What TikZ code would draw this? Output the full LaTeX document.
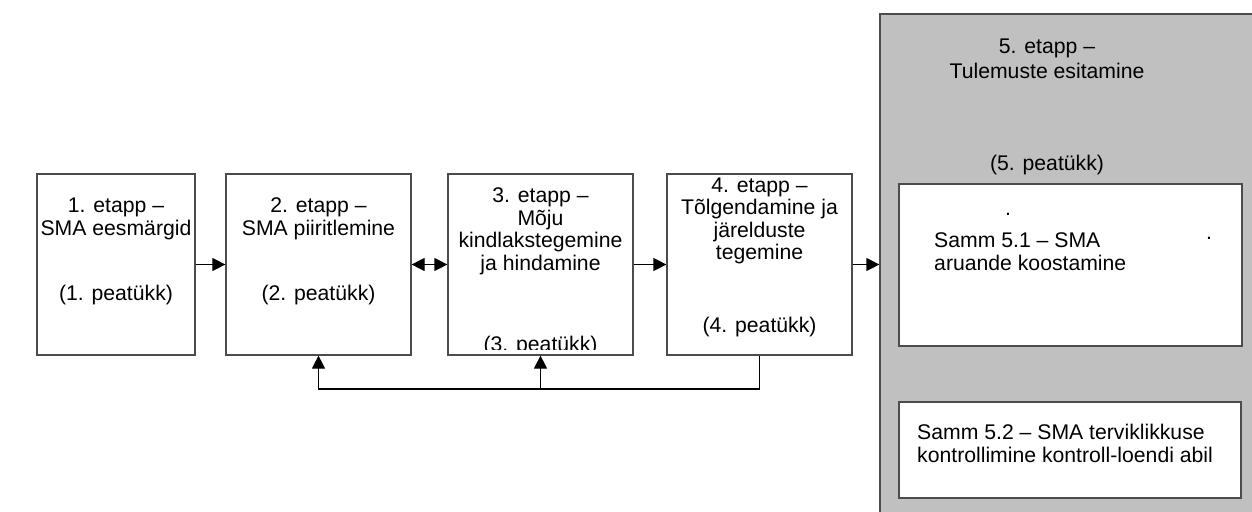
\documentclass[tikz,border=0pt]{standalone}
\usepackage{fontspec}
\setmainfont{Liberation Sans}
\usetikzlibrary{arrows.meta}
\definecolor{panelgray}{HTML}{C0C0C0}
\begin{document}
\begin{tikzpicture}[x=1pt,y=-1pt,
  box/.style={draw=black!70, line width=1.2pt, fill=white, rectangle, inner sep=0pt},
  txt/.style={anchor=base, inner sep=0pt, font=\fontsize{21.2}{23}\selectfont},
  ltxt/.style={txt, anchor=base west},
  link/.style={draw=black, line width=1.2pt},
  arr/.style={link, -{Triangle[length=13pt,width=13pt]}},
]
\useasboundingbox (0,0) rectangle (1252,511);

% stage boxes
\node[box, minimum width=158pt, minimum height=181pt] (b1) at (116,264.5) {};
\node[box, minimum width=185pt, minimum height=181pt] (b2) at (318.5,264.5) {};
\node[box, minimum width=185pt, minimum height=181pt] (b3) at (540.5,264.5) {};
\node[box, minimum width=185pt, minimum height=181pt] (b4) at (759.5,264.5) {};

% stage 5 panel and its two steps
\node[box, fill=panelgray, minimum width=382pt, minimum height=516pt] (g5) at (1071,272) {};
\node[box, minimum width=343pt, minimum height=162pt] (s1) at (1070.5,265) {};
\node[box, minimum width=342pt, minimum height=96pt] (s2) at (1070,450) {};

% stage 1
\node[txt] (t1a) at (116,212) {1. etapp –};
\node[txt] (t1b) at (116,235) {SMA eesmärgid};
\node[txt] (t1c) at (116,300) {(1. peatükk)};

% stage 2
\node[txt] (t2a) at (318.5,212) {2. etapp –};
\node[txt] (t2b) at (318.5,235) {SMA piiritlemine};
\node[txt] (t2c) at (318.5,300) {(2. peatükk)};

% stage 3 (its last line is cut off by the box edge)
\node[txt] (t3a) at (540.5,202) {3. etapp –};
\node[txt] (t3b) at (540.5,225) {Mõju};
\node[txt] (t3c) at (540.5,247) {kindlakstegemine};
\node[txt] (t3d) at (540.5,270) {ja hindamine};
\begin{scope}
  \clip (449,325) rectangle (632,349);
  \node[txt] (t3e) at (540.5,351) {(3. peatükk)};
\end{scope}

% stage 4
\node[txt] (t4a) at (759.5,192) {4. etapp –};
\node[txt] (t4b) at (759.5,214) {Tõlgendamine ja};
\node[txt] (t4c) at (759.5,237) {järelduste};
\node[txt] (t4d) at (759.5,259) {tegemine};
\node[txt] (t4e) at (759.5,332) {(4. peatükk)};

% stage 5
\node[txt] (t5a) at (1047,54) {5. etapp –};
\node[txt] (t5b) at (1047,78) {Tulemuste esitamine};
\node[txt] (t5c) at (1047,170) {(5. peatükk)};

\node[txt] (d1) at (1008,215) {.};
\node[txt] (d2) at (1209,239) {.};
\node[ltxt] (s1a) at (934,247) {Samm 5.1 – SMA};
\node[ltxt] (s1b) at (934,270) {aruande koostamine};

\node[ltxt] (s2a) at (917,439) {Samm 5.2 – SMA terviklikkuse};
\node[ltxt] (s2b) at (917,462) {kontrollimine kontroll-loendi abil};

% forward links
\draw[arr] (b1.east) -- (b2.west);
\draw[link, {Triangle[length=13pt,width=13pt]}-{Triangle[length=13pt,width=13pt]}] (b2.east) -- (b3.west);
\draw[arr] (b3.east) -- (b4.west);
\draw[arr] (b4.east) -- (b4.east -| g5.west);

% feedback loop
\coordinate (fb) at (759.5,389);
\draw[arr] (b4.south) -- (fb) -| (b2.south);
\draw[arr] (b3.south |- fb) -- (b3.south);
\end{tikzpicture}
\end{document}
